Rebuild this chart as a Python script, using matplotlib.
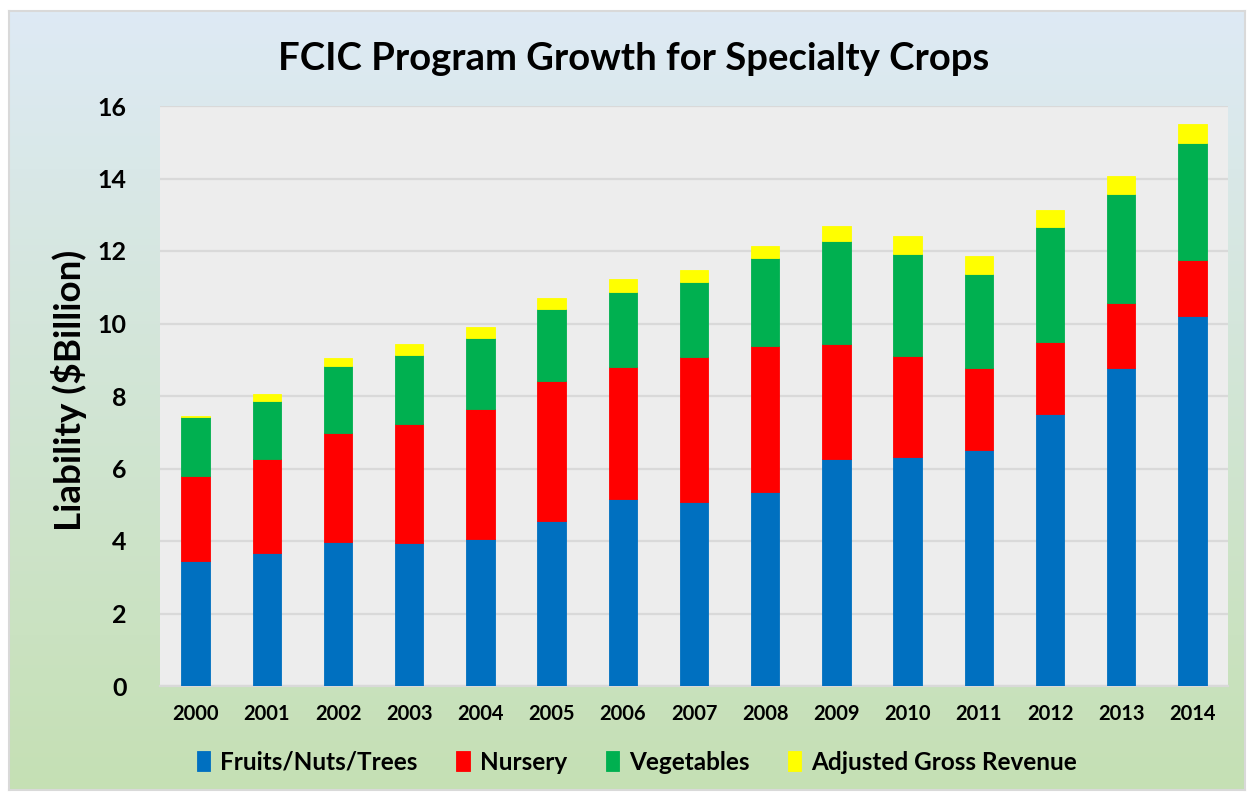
import matplotlib.pyplot as plt
import numpy as np

years = ["2000", "2001", "2002", "2003", "2004", "2005", "2006", "2007",
         "2008", "2009", "2010", "2011", "2012", "2013", "2014"]
fruits = [3.46, 3.66, 3.96, 3.94, 4.06, 4.54, 5.15, 5.08, 5.34, 6.26, 6.31, 6.51, 7.50, 8.78, 10.20]
nursery = [2.34, 2.59, 3.01, 3.28, 3.59, 3.88, 3.66, 4.00, 4.04, 3.18, 2.79, 2.27, 2.00, 1.79, 1.54]
vegetables = [1.63, 1.62, 1.85, 1.90, 1.94, 1.97, 2.05, 2.06, 2.43, 2.84, 2.81, 2.59, 3.17, 3.01, 3.25]
agr = [0.02, 0.18, 0.24, 0.32, 0.32, 0.31, 0.36, 0.34, 0.33, 0.40, 0.50, 0.49, 0.47, 0.48, 0.52]

series = [("Fruits/Nuts/Trees", fruits, "#0070c0"),
          ("Nursery", nursery, "#ff0000"),
          ("Vegetables", vegetables, "#00b050"),
          ("Adjusted Gross Revenue", agr, "#ffff00")]

plt.rcParams['font.family'] = ['Lato', 'DejaVu Sans']
plt.rcParams['font.weight'] = 'bold'

W, H = 1250, 794
fig = plt.figure(figsize=(W / 100, H / 100), dpi=100)

# gradient background (light blue -> light green)
bg = fig.add_axes([9 / W, 1 - 790 / H, 1236 / W, 779 / H], zorder=0)
top = np.array([222, 234, 245]) / 255
bot = np.array([197, 224, 180]) / 255
t = np.linspace(0, 1, 256)[:, None]
grad = (1 - t) * top + t * bot
bg.imshow(grad[:, None, :], aspect='auto', extent=[0, 1, 0, 1])
bg.set_xticks([])
bg.set_yticks([])
for s in bg.spines.values():
    s.set_color("#d9d9d9")
    s.set_linewidth(1.5)

ax = fig.add_axes([160 / W, 1 - 686 / H, 1068 / W, 580 / H], zorder=1)
ax.set_facecolor("#ededed")

x = np.arange(len(years))
bottom = np.zeros(len(years))
for name, vals, col in series:
    ax.bar(x, vals, 0.4, bottom=bottom, color=col, label=name,
           edgecolor=col, linewidth=0.6, zorder=3)
    bottom += np.array(vals)

ax.set_xlim(-0.5, len(years) - 0.5)
ax.set_ylim(0, 16)
ax.set_yticks(range(0, 17, 2))
ax.set_xticks(x)
ax.set_xticklabels(years, fontsize=14.5, fontweight='bold')
ax.tick_params(axis='y', length=0, pad=24, labelsize=18)
ax.tick_params(axis='x', length=0, pad=13)
for lbl in ax.get_yticklabels():
    lbl.set_fontweight('bold')
ax.grid(axis='y', color="#d9d9d9", linewidth=1.6, zorder=0)
for side in ["top", "left", "right"]:
    ax.spines[side].set_visible(False)
ax.spines["bottom"].set_color("#d9d9d9")
ax.spines["bottom"].set_linewidth(1.6)

ax.set_ylabel("Liability ($Billion)", fontsize=26.5, fontweight='bold')
ax.yaxis.set_label_coords(-0.068, 0.51)

fig.text(634 / W, 1 - 59 / H, "FCIC Program Growth for Specialty Crops",
         ha='center', va='center', fontsize=27.5, fontweight='bold')

handles, labels = ax.get_legend_handles_labels()
leg = fig.legend(handles, labels, loc='center', bbox_to_anchor=(637 / W, 1 - 762 / H),
                 ncol=4, frameon=False, fontsize=17.5, handlelength=0.55, handleheight=0.9,
                 handletextpad=0.4, columnspacing=1.6)
for txt in leg.get_texts():
    txt.set_fontweight('bold')

fig.savefig("out.png", dpi=100)
